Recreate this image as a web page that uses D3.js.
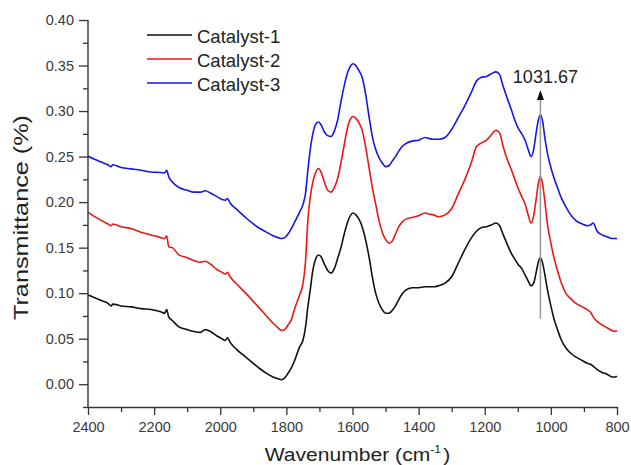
<!DOCTYPE html>
<html>
<head>
<meta charset="utf-8">
<script src="https://cdn.jsdelivr.net/npm/d3@7"></script>
<style>
  html, body { margin: 0; padding: 0; background: #fff; }
  svg { display: block; font-family: "Liberation Sans", Arial, sans-serif; }
</style>
</head>
<body>
<svg id="chart" width="631" height="465"></svg>
<script>
// ---- data ----
const wavenumber = [
  2400,2380,2360,2340,2330,2325,2300,2270,2240,2210,
  2180,2168,2162,2156,2145,2125,2100,2080,2060,2045,
  2030,2010,1995,1985,1978,1970,1950,1920,1900,1880,
  1860,1840,1825,1815,1805,1795,1785,1775,1760,1750,
  1742,1735,1728,1720,1712,1703,1695,1685,1675,1665,
  1655,1645,1635,1625,1615,1605,1598,1590,1580,1570,
  1560,1550,1540,1530,1520,1510,1500,1490,1480,1470,
  1460,1450,1440,1420,1400,1380,1370,1355,1340,1320,
  1300,1280,1260,1240,1225,1210,1195,1180,1166,1155,
  1145,1130,1120,1110,1100,1088,1078,1068,1060,1052,
  1045,1038,1032,1025,1018,1010,1000,990,980,970,
  955,940,925,905,890,880,872,860,845,830,
  815,805,800
];
const catalyst1 = [
  0.098,0.095,0.092,0.089,0.086,0.088,0.086,0.085,0.083,0.082,
  0.0795,0.078,0.082,0.074,0.070,0.063,0.060,0.058,0.057,0.060,
  0.058,0.053,0.050,0.048,0.051,0.046,0.038,0.029,0.023,0.017,
  0.012,0.008,0.006,0.005,0.007,0.012,0.018,0.026,0.041,0.048,
  0.063,0.085,0.103,0.125,0.137,0.142,0.140,0.132,0.125,0.122,
  0.127,0.138,0.150,0.165,0.178,0.186,0.188,0.186,0.181,0.172,
  0.158,0.140,0.118,0.100,0.089,0.082,0.078,0.078,0.081,0.086,
  0.093,0.099,0.103,0.106,0.106,0.107,0.107,0.107,0.108,0.111,
  0.118,0.133,0.148,0.161,0.168,0.172,0.173,0.175,0.177,0.174,
  0.165,0.152,0.144,0.138,0.132,0.127,0.120,0.113,0.108,0.111,
  0.122,0.134,0.139,0.133,0.120,0.103,0.086,0.071,0.060,0.050,
  0.040,0.034,0.030,0.026,0.023,0.022,0.020,0.016,0.013,0.011,
  0.008,0.008,0.009
];
const catalyst2 = [
  0.189,0.184,0.180,0.176,0.174,0.176,0.173,0.171,0.167,0.164,
  0.161,0.160,0.163,0.151,0.150,0.142,0.139,0.136,0.134,0.135,
  0.132,0.126,0.123,0.121,0.123,0.118,0.110,0.099,0.091,0.083,
  0.075,0.067,0.062,0.059,0.060,0.065,0.071,0.083,0.098,0.110,
  0.135,0.180,0.205,0.222,0.232,0.237,0.233,0.222,0.213,0.211,
  0.216,0.226,0.243,0.263,0.282,0.292,0.294,0.292,0.287,0.278,
  0.260,0.238,0.216,0.198,0.180,0.167,0.159,0.155,0.157,0.165,
  0.173,0.178,0.181,0.183,0.185,0.188,0.187,0.186,0.184,0.186,
  0.193,0.209,0.225,0.244,0.261,0.265,0.268,0.274,0.279,0.276,
  0.262,0.245,0.236,0.226,0.216,0.206,0.198,0.185,0.177,0.185,
  0.202,0.220,0.228,0.220,0.200,0.175,0.155,0.138,0.125,0.113,
  0.100,0.094,0.089,0.085,0.082,0.079,0.074,0.069,0.065,0.062,
  0.059,0.058,0.059
];
const catalyst3 = [
  0.2505,0.247,0.244,0.241,0.239,0.241,0.238,0.2365,0.235,0.233,
  0.2325,0.232,0.235,0.228,0.222,0.216,0.213,0.211,0.211,0.2125,
  0.210,0.206,0.203,0.202,0.204,0.199,0.192,0.182,0.176,0.171,
  0.167,0.163,0.161,0.160,0.161,0.165,0.171,0.178,0.189,0.197,
  0.210,0.235,0.257,0.275,0.285,0.288,0.285,0.277,0.273,0.272,
  0.278,0.290,0.310,0.328,0.342,0.350,0.352,0.350,0.344,0.336,
  0.318,0.294,0.272,0.258,0.249,0.243,0.239,0.240,0.245,0.250,
  0.256,0.261,0.264,0.267,0.268,0.271,0.270,0.269,0.269,0.271,
  0.280,0.293,0.306,0.321,0.333,0.337,0.338,0.341,0.343,0.340,
  0.328,0.312,0.302,0.291,0.282,0.275,0.268,0.257,0.250,0.258,
  0.275,0.290,0.296,0.289,0.270,0.253,0.238,0.226,0.216,0.206,
  0.195,0.186,0.180,0.176,0.174,0.175,0.177,0.168,0.164,0.162,
  0.160,0.160,0.160
];
const seriesNames = ["Catalyst-1", "Catalyst-2", "Catalyst-3"];
const seriesColors = ["#111111", "#ee1515", "#1515ee"];
const xTicks = [2400, 2200, 2000, 1800, 1600, 1400, 1200, 1000, 800];
const xMinorTicks = [2300, 2100, 1900, 1700, 1500, 1300, 1100, 900];
const yTicks = [0.00, 0.05, 0.10, 0.15, 0.20, 0.25, 0.30, 0.35, 0.40];
const yMinorTicks = [-0.025, 0.025, 0.075, 0.125, 0.175, 0.225, 0.275, 0.325, 0.375];
const peakLabel = "1031.67";
const peakPosition = 1031.67;
const peakRange = [0.072, 0.323];

// ---- layout ----
const svg = d3.select("#chart");
const mLeft = 88, mRight = 617, mTop = 20, mBottom = 407;
const x = d3.scaleLinear().domain([2400, 800]).range([mLeft, mRight]);
const y = d3.scaleLinear().domain([-0.025, 0.40]).range([mBottom, mTop]);
const axisColor = "#333";
const textColor = "#3a3a3a";

// data lines
const allSeries = [catalyst1, catalyst2, catalyst3];
const line = d3.line()
  .x(d => x(d[0]))
  .y(d => y(d[1]))
  .curve(d3.curveMonotoneX);

allSeries.forEach((vals, i) => {
  const pts = wavenumber.map((w, j) => [w, vals[j]]);
  svg.append("path")
    .attr("d", line(pts))
    .attr("fill", "none")
    .attr("stroke", seriesColors[i])
    .attr("stroke-width", 1.6)
    .attr("stroke-linejoin", "round");
});

// axes
const xAxis = d3.axisBottom(x).tickValues(xTicks).tickSize(8).tickSizeOuter(0)
  .tickFormat(d3.format("d")).tickPadding(4);
const gx = svg.append("g").attr("transform", `translate(0,${mBottom})`).call(xAxis);
const xMinor = d3.axisBottom(x).tickValues(xMinorTicks).tickSize(5).tickSizeOuter(0).tickFormat("");
const gxm = svg.append("g").attr("transform", `translate(0,${mBottom})`).call(xMinor);
gxm.select(".domain").remove();

const yAxis = d3.axisLeft(y).tickValues(yTicks).tickSize(9).tickSizeOuter(0)
  .tickFormat(d3.format(".2f")).tickPadding(5);
const gy = svg.append("g").attr("transform", `translate(${mLeft},0)`).call(yAxis);
const yMinor = d3.axisLeft(y).tickValues(yMinorTicks).tickSize(5).tickSizeOuter(0).tickFormat("");
const gym = svg.append("g").attr("transform", `translate(${mLeft},0)`).call(yMinor);
gym.select(".domain").remove();

[gx, gxm, gy, gym].forEach(g => {
  g.selectAll(".domain").attr("stroke", axisColor).attr("stroke-width", 1.4);
  g.selectAll(".tick line").attr("stroke", axisColor).attr("stroke-width", 1.3);
  g.selectAll(".tick text").attr("fill", textColor)
    .style("font-family", "'Liberation Sans', Arial, sans-serif")
    .style("font-size", "14.5px");
});
gx.selectAll(".tick text").attr("dy", "0.72em").attr("y", 14.5);
gy.select(".domain").attr("d", `M0,${mTop}V${mBottom}`);

// axis titles
svg.append("text")
  .attr("transform", `translate(28,217.5) rotate(-90)`)
  .attr("text-anchor", "middle")
  .attr("fill", "#222")
  .attr("textLength", 205)
  .attr("lengthAdjust", "spacingAndGlyphs")
  .style("font-size", "20px")
  .text("Transmittance (%)");

const xt = svg.append("text")
  .attr("transform", `translate(357.5,461) scale(1.11,1)`)
  .attr("text-anchor", "middle")
  .attr("fill", "#222")
  .style("font-size", "19px");
xt.append("tspan").text("Wavenumber (cm");
xt.append("tspan").attr("dy", -8).style("font-size", "11px").text("-1");
xt.append("tspan").attr("dy", 8).attr("dx", 2).text(")");

// peak annotation
const px = x(peakPosition);
svg.append("line")
  .attr("x1", px).attr("x2", px)
  .attr("y1", y(peakRange[0])).attr("y2", y(peakRange[1]) + 8)
  .attr("stroke", "#9a9a9a").attr("stroke-width", 1.6);
svg.append("path")
  .attr("d", `M${px},${y(peakRange[1])} L${px - 3.5},${y(peakRange[1]) + 10} L${px + 3.5},${y(peakRange[1]) + 10} Z`)
  .attr("fill", "#111");
svg.append("text")
  .attr("x", px + 5).attr("y", 83.3)
  .attr("text-anchor", "middle")
  .attr("fill", "#222")
  .style("font-size", "18px")
  .text(peakLabel);

// legend
const legend = svg.append("g");
seriesNames.forEach((name, i) => {
  const ly = 35 + i * 24;
  legend.append("line")
    .attr("x1", 147).attr("x2", 192)
    .attr("y1", ly).attr("y2", ly)
    .attr("stroke", seriesColors[i]).attr("stroke-width", 1.6);
  legend.append("text")
    .attr("x", 197).attr("y", ly + 7.5)
    .attr("fill", "#222")
    .style("font-size", "18.5px")
    .text(name);
});
</script>
</body>
</html>
